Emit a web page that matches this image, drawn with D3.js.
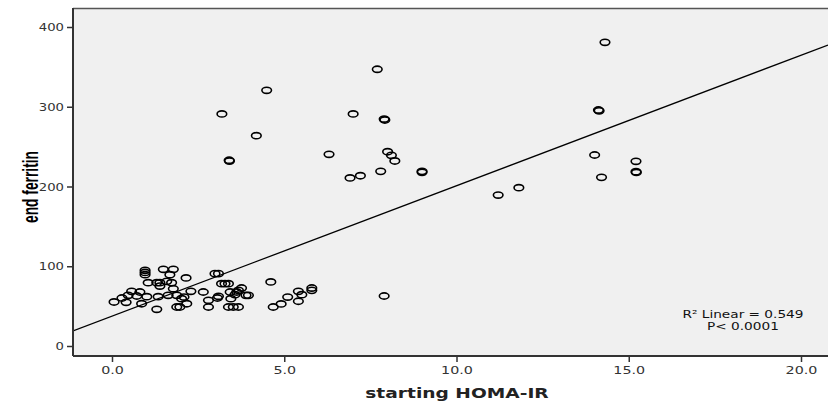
<!DOCTYPE html>
<html>
<head>
<meta charset="utf-8">
<script src="https://cdn.jsdelivr.net/npm/d3@7"></script>
<style>
  html, body { margin: 0; padding: 0; background: #fff; }
  svg { display: block; }
</style>
</head>
<body>
<svg id="chart" width="828" height="403"></svg>
<script>
// ---- data ----
const homaIR = [
  0.96, 0.96, 0.96, 1.49, 1.78, 1.68, 2.15,
  1.05, 1.30, 1.39, 1.39, 1.59, 1.73, 1.78,
  0.57, 0.81, 0.47, 0.72, 1.01, 1.34, 1.63, 1.88,
  0.29, 0.06, 0.41, 0.86, 1.30, 1.88, 1.97,
  2.99, 3.09, 3.18, 3.28, 3.38,
  2.29, 2.65, 3.43, 3.62, 3.76, 3.67, 3.57,
  2.09, 2.02, 3.09, 3.06, 3.89, 3.96,
  2.80, 3.45, 2.17, 2.80, 3.38, 3.52, 3.67,
  4.61, 5.80, 5.80, 5.41, 5.51, 5.10, 5.41, 4.91, 4.68,
  7.90,
  7.70, 4.49, 3.19, 7.00, 7.90, 7.92, 4.19, 3.40, 3.41, 6.30,
  8.00, 8.11, 8.21, 7.80, 9.00, 9.00, 6.91, 7.21,
  14.31, 14.12, 14.14, 14.01, 15.21, 15.21, 15.22, 14.21, 11.81, 11.21
];
const endFerritin = [
  94.9, 92.2, 89.4, 96.2, 96.2, 89.4, 85.3,
  79.4, 79.4, 79.4, 75.2, 81.1, 79.4, 71.8,
  68.6, 67.7, 63.6, 62.7, 61.8, 61.8, 63.6, 63.6,
  60.2, 55.2, 54.8, 53.0, 46.0, 48.9, 48.9,
  90.7, 90.7, 78.1, 78.1, 78.1,
  68.6, 67.7, 67.7, 67.7, 72.7, 69.8, 64.3,
  61.4, 59.3, 62.3, 60.2, 63.6, 63.6,
  57.3, 59.3, 53.0, 48.9, 48.9, 48.9, 48.9,
  80.3, 72.7, 69.8, 68.6, 64.3, 61.4, 56.1, 52.7, 48.9,
  62.7,
  347.0, 320.6, 291.0, 291.0, 284.6, 283.4, 263.7, 232.9, 231.9, 240.4,
  243.6, 239.1, 232.0, 219.0, 219.0, 217.8, 210.7, 213.5,
  380.8, 295.9, 294.9, 239.5, 231.6, 218.6, 217.6, 211.5, 198.5, 189.3
];
const xTicks = [0, 5, 10, 15, 20];
const yTicks = [0, 100, 200, 300, 400];
const fitIntercept = 37.4;
const fitSlope = 16.36;
const xTitle = "starting HOMA-IR";
const yTitle = "end ferritin";
const noteLines = ["R\u00B2 Linear = 0.549", "P< 0.0001"];

// ---- layout ----
const svg = d3.select("#chart");
const plot = { left: 73, right: 828, top: 8, bottom: 356 };
const stretch = 1.3; // the reference picture is stretched horizontally

const x = d3.scaleLinear().domain([0, 20]).range([112, 801]);
const y = d3.scaleLinear().domain([0, 400]).range([346, 27]);

function widen(sel, k) {
  sel.each(function () {
    const len = this.getComputedTextLength();
    d3.select(this).attr("textLength", len * k).attr("lengthAdjust", "spacingAndGlyphs");
  });
}

// plot background
svg.append("rect")
  .attr("x", plot.left).attr("y", plot.top)
  .attr("width", plot.right - plot.left).attr("height", plot.bottom - plot.top)
  .attr("fill", "#f0f0f0");

// top border
svg.append("line")
  .attr("x1", plot.left).attr("x2", plot.right)
  .attr("y1", plot.top + 0.5).attr("y2", plot.top + 0.5)
  .attr("stroke", "#555").attr("stroke-width", 1.5);

// clip for plot contents
svg.append("clipPath").attr("id", "clip")
  .append("rect")
  .attr("x", plot.left).attr("y", plot.top)
  .attr("width", plot.right - plot.left).attr("height", plot.bottom - plot.top);

const g = svg.append("g").attr("clip-path", "url(#clip)");

// regression line
const x0 = x.invert(plot.left), x1 = x.invert(plot.right);
g.append("line")
  .attr("x1", x(x0)).attr("y1", y(fitIntercept + fitSlope * x0))
  .attr("x2", x(x1)).attr("y2", y(fitIntercept + fitSlope * x1))
  .attr("stroke", "#000").attr("stroke-width", 1.3);

// points
const pts = homaIR.map((v, i) => ({ x: v, y: endFerritin[i] }));
g.selectAll("ellipse.pt").data(pts).enter().append("ellipse")
  .attr("class", "pt")
  .attr("cx", d => x(d.x)).attr("cy", d => y(d.y))
  .attr("rx", 4.8).attr("ry", 3.1)
  .attr("fill", "none").attr("stroke", "#000").attr("stroke-width", 1.6);

// axes
const yAxis = d3.axisLeft(y).tickValues(yTicks).tickSize(6).tickSizeOuter(0)
  .tickFormat(d3.format("d"));
const gy = svg.append("g").attr("transform", `translate(${plot.left},0)`).call(yAxis);
gy.select(".domain").remove();
gy.selectAll(".tick line").attr("stroke", "#333").attr("stroke-width", 1.5);
gy.selectAll(".tick text").attr("fill", "#333")
  .style("font-family", "DejaVu Sans, Verdana, sans-serif").style("font-size", "11px")
  .attr("x", -9);
widen(gy.selectAll(".tick text"), 1.2);
svg.append("line")
  .attr("x1", plot.left).attr("x2", plot.left)
  .attr("y1", plot.top).attr("y2", plot.bottom)
  .attr("stroke", "#333").attr("stroke-width", 2);

const xAxis = d3.axisBottom(x).tickValues(xTicks).tickSize(6).tickSizeOuter(0)
  .tickFormat(d3.format(".1f"));
const gx = svg.append("g").attr("transform", `translate(0,${plot.bottom})`).call(xAxis);
gx.select(".domain").remove();
gx.selectAll(".tick line").attr("stroke", "#333").attr("stroke-width", 1.5);
gx.selectAll(".tick text").attr("fill", "#333")
  .style("font-family", "DejaVu Sans, Verdana, sans-serif").style("font-size", "11px")
  .attr("y", 10);
widen(gx.selectAll(".tick text"), stretch);
svg.append("line")
  .attr("x1", plot.left).attr("x2", plot.right)
  .attr("y1", plot.bottom).attr("y2", plot.bottom)
  .attr("stroke", "#333").attr("stroke-width", 2);

// titles
const xt = svg.append("text")
  .attr("x", 457).attr("y", 398)
  .attr("text-anchor", "middle")
  .style("font-family", "DejaVu Sans, Verdana, sans-serif")
  .style("font-weight", "bold").style("font-size", "14px")
  .attr("fill", "#222")
  .text(xTitle);
widen(xt, 1.33);

svg.append("g")
  .attr("transform", `translate(38,187) scale(${stretch},1)`)
  .append("text")
  .attr("transform", "rotate(-90)")
  .attr("text-anchor", "middle")
  .style("font-family", "Liberation Sans Narrow, Liberation Sans, Arial, sans-serif")
  .style("font-weight", "bold").style("font-size", "17.5px")
  .attr("textLength", 72).attr("lengthAdjust", "spacingAndGlyphs")
  .attr("fill", "#000")
  .text(yTitle);

// annotation
const notes = svg.append("g").selectAll("text").data(noteLines).enter().append("text")
  .attr("x", 743).attr("y", (d, i) => 318 + i * 12)
  .attr("text-anchor", "middle")
  .style("font-family", "DejaVu Sans, Verdana, sans-serif").style("font-size", "10.5px")
  .attr("fill", "#111")
  .text(d => d);
widen(notes, stretch);
</script>
</body>
</html>
